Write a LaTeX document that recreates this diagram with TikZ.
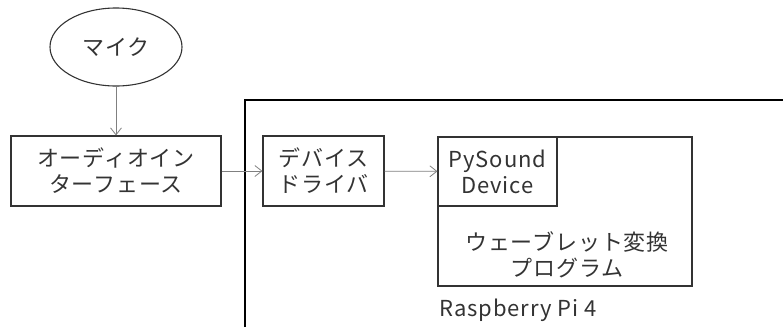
\documentclass[tikz,border=0pt]{standalone}
\usepackage{fontspec}
\setmainfont[LetterSpace=4]{Noto Sans CJK JP}
\usetikzlibrary{shapes.geometric, arrows.meta, positioning}

\begin{document}
\begin{tikzpicture}[
    x=1pt, y=-1pt,
    every node/.style={font=\fontsize{22}{26}\selectfont, text=black!80},
    block/.style={rectangle, draw=black!80, line width=1.1pt, inner sep=0pt, align=center},
    oval/.style={ellipse, draw=black!80, line width=1.1pt, inner sep=0pt, align=center},
    arrow/.style={draw=black!50, line width=0.8pt, -{Straight Barb[length=7pt,width=11pt]}}
]
\useasboundingbox (0,0) rectangle (783,327);

\node (mic) [oval, minimum width=132pt, minimum height=78pt] at (116,47) {マイク};
\node (audio) [block, minimum width=210pt, minimum height=70pt] at (116,171) {オーディオイン\\ターフェース};
\node (driver) [block, minimum width=121pt, minimum height=70pt] at (323.5,171) {デバイス\\ドライバ};
\node (wavelet) [block, minimum width=254pt, minimum height=149pt] at (565,211.5) {};
\node (pysound) [block, anchor=north west, minimum width=119pt, minimum height=69pt] at (wavelet.north west) {PySound\\Device};
\node (wtext) [align=center] at (567,255) {ウェーブレット変換\\プログラム};
\node (rpi) [anchor=west, align=left] at (436,310) {Raspberry Pi 4};

% Raspberry Pi frame
\coordinate (frame bl) at (245,327);
\coordinate (frame tl) at (245,100);
\coordinate (frame tr) at (783,100);
\draw [line width=1.2pt, black] (frame bl) -- (frame tl) -- (frame tr);

\draw [arrow] (mic) -- (audio);
\draw [arrow] (audio) -- (driver);
\draw [arrow] (driver) -- (pysound);

\end{tikzpicture}
\end{document}
